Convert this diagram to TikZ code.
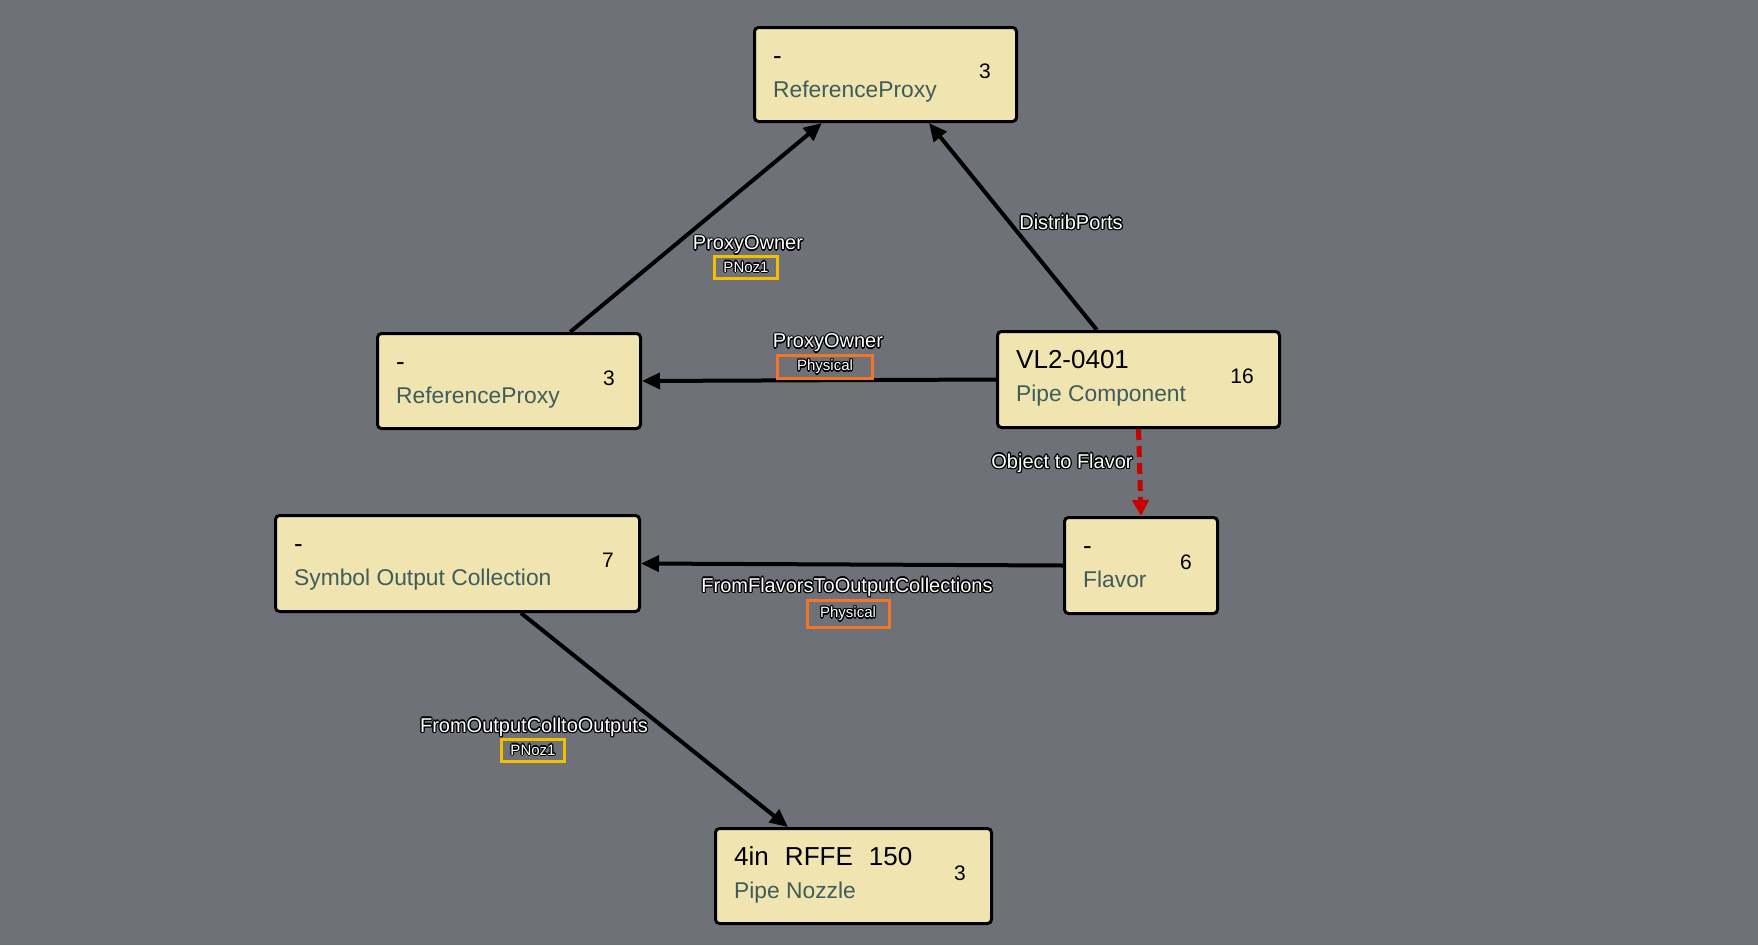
\documentclass[tikz,border=0pt]{standalone}
\usepackage{fontspec}
\setmainfont{Liberation Sans}
\usetikzlibrary{calc,arrows.meta}
\definecolor{bg}{RGB}{110,114,120}
\definecolor{boxfill}{RGB}{240,228,176}
\definecolor{subc}{RGB}{62,92,92}
\definecolor{ylw}{RGB}{242,192,0}
\definecolor{orng}{RGB}{242,118,38}
\definecolor{redc}{RGB}{200,0,0}
\newcommand\halotxt[1]{\leavevmode\rlap{\color{black}%
\rlap{\hspace{-1.2pt}#1}\rlap{\hspace{1.2pt}#1}\rlap{\raisebox{1.2pt}{#1}}\rlap{\raisebox{-1.2pt}{#1}}%
\rlap{\hspace{-0.9pt}\raisebox{0.9pt}{#1}}\rlap{\hspace{0.9pt}\raisebox{0.9pt}{#1}}%
\rlap{\hspace{-0.9pt}\raisebox{-0.9pt}{#1}}\rlap{\hspace{0.9pt}\raisebox{-0.9pt}{#1}}}%
{\color{white}#1}}
\tikzset{
  box/.style={draw=black, line width=3pt, fill=boxfill, rounded corners=4pt, inner sep=0pt},
  ttl/.style={anchor=base west, inner sep=0pt, font=\fontsize{26}{30}\selectfont},
  sub/.style={anchor=base west, inner sep=0pt, text=subc, font=\fontsize{22.8}{27}\selectfont},
  num/.style={anchor=east, inner sep=0pt, font=\fontsize{21}{25}\selectfont},
  elab/.style={inner sep=0pt, font=\fontsize{20}{24}\selectfont},
  tag/.style={draw, line width=3pt, inner sep=0pt, font=\fontsize{15}{17}\selectfont},
  conn/.style={line width=4pt, -{Triangle[length=18pt,width=16pt]}},
  flav/.style={line width=5pt, draw=redc, dash pattern=on 11pt off 6pt, -{Triangle[length=16pt,width=16pt,fill=redc]}},
}
\newcommand\fillbox[4]{%
  \node[ttl] (#1t) at ($(#1.north west)+(20,38)$) {#2};
  \node[sub] (#1s) at ($(#1.north west)+(20,71)$) {#3};
  \node[num] (#1n) at ($(#1.east)+(-27,-3)$) {#4};
}
\begin{document}
\begin{tikzpicture}[x=1pt,y=-1pt]
\fill[bg] (0,0) rectangle (1758,945);
\useasboundingbox (0,0) rectangle (1758,945);

\node[box, minimum width=262, minimum height=94] (trp) at (885.5,74.5) {};
\node[box, minimum width=263, minimum height=95] (lrp) at (509,381) {};
\node[box, minimum width=282, minimum height=96] (vl) at (1138.5,379.5) {};
\node[box, minimum width=153, minimum height=96] (fl) at (1141,565.5) {};
\node[box, minimum width=364, minimum height=96] (soc) at (457.5,563.5) {};
\node[box, minimum width=276, minimum height=95] (pn) at (853.5,876) {};

\fillbox{trp}{-}{ReferenceProxy}{3}
\fillbox{lrp}{-}{ReferenceProxy}{3}
\fillbox{vl}{VL2-0401}{Pipe Component}{16}
\fillbox{fl}{-}{Flavor}{6}
\fillbox{soc}{-}{Symbol Output Collection}{7}
\fillbox{pn}{4in\hspace{0.62em}RFFE\hspace{0.62em}150}{Pipe Nozzle}{3}

\draw[conn] ($(lrp.north west)!0.73!(lrp.north east)$) -- ($(trp.south west)!0.26!(trp.south east)$);
\draw[conn] ($(vl.north west)!0.354!(vl.north east)$) -- ($(trp.south west)!0.664!(trp.south east)$);
\draw[conn] (vl.west) -- (lrp.east);
\draw[flav] (vl.south) -- (fl.north);
\draw[conn] (fl.west) -- (soc.east);
\draw[conn] ($(soc.south west)!0.673!(soc.south east)$) -- ($(pn.north west)!0.265!(pn.north east)$);

\node[elab] (l1) at (748,245) {\halotxt{ProxyOwner}};
\node[tag, draw=ylw, minimum width=63, minimum height=22] (g1) at (746,267) {\halotxt{PNoz1}};
\node[elab] (l2) at (828,343) {\halotxt{ProxyOwner}};
\node[tag, draw=orng, minimum width=95, minimum height=23] (g2) at (825,367) {\halotxt{Physical}};
\node[elab] (l3) at (1071,222) {\halotxt{DistribPorts}};
\node[elab] (l4) at (1062,463) {\halotxt{Object to Flavor}};
\node[elab] (l5) at (847,587) {\halotxt{FromFlavorsToOutputCollections}};
\node[tag, draw=orng, minimum width=82, minimum height=27] (g5) at (848,614) {\halotxt{Physical}};
\node[elab] (l6) at (534,727) {\halotxt{FromOutputColltoOutputs}};
\node[tag, draw=ylw, minimum width=63, minimum height=22] (g6) at (533,750) {\halotxt{PNoz1}};
\end{tikzpicture}
\end{document}
